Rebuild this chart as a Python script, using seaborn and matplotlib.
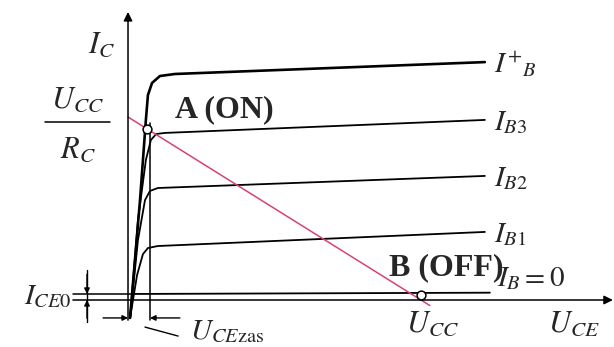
import matplotlib.pyplot as plt
import seaborn as sns
import pandas as pd

# output characteristics of a switching transistor (arbitrary units: U_CE in V, I_C in mA)
U_CC = 10.0        # supply voltage -> point B
I_MAX = 10.0       # U_CC / R_C -> start of the load line
I_CE0 = 0.33       # leakage current with I_B = 0
U_CEZAS = 0.75     # saturation voltage

curve_names = ['IBplus', 'IB3', 'IB2', 'IB1', 'IB0']
curve_labels = [r'$I^{+}{}_{B}$', r'$I_{B3}$', r'$I_{B2}$', r'$I_{B1}$', None]
u_ibplus = [0.07, 0.41, 0.61, 0.68, 0.82, 1.09, 1.60, 12.18]
i_ibplus = [-0.98, 5.46, 9.84, 11.20, 11.86, 12.24, 12.35, 13.00]
u_ib3 = [0.07, 0.34, 0.61, 0.78, 0.96, 1.26, 12.18]
i_ib3 = [-0.98, 4.37, 7.65, 8.74, 9.07, 9.13, 9.84]
u_ib2 = [0.07, 0.34, 0.58, 0.75, 1.02, 12.18]
i_ib2 = [-0.98, 3.28, 5.46, 5.96, 6.12, 6.78]
u_ib1 = [0.07, 0.31, 0.51, 0.68, 1.02, 12.18]
i_ib1 = [-0.98, 1.37, 2.51, 2.84, 2.95, 3.72]
u_ib0 = [0.07, 0.17, 12.35]
i_ib0 = [-0.98, I_CE0, 0.40]

# load line and the two operating points
u_load = [0.0, 10.3]
i_load = [I_MAX, I_MAX * (1 - 10.3 / U_CC)]
u_points = [0.65, U_CC]
i_points = [9.35, 0.30]

curves_u = [u_ibplus, u_ib3, u_ib2, u_ib1, u_ib0]
curves_i = [i_ibplus, i_ib3, i_ib2, i_ib1, i_ib0]

sns.set_style('white')
plt.rcParams['font.family'] = ['Liberation Serif', 'DejaVu Serif']
plt.rcParams['mathtext.fontset'] = 'stix'

fig = plt.figure(figsize=(6.14, 3.47), dpi=100)
ax = fig.add_axes([0, 0, 1, 1])
ax.set_xlim(-4.369, 16.587)
ax.set_ylim(-2.568, 16.393)
ax.axis('off')

# characteristic curves
for name, u, i, lab in zip(curve_names, curves_u, curves_i, curve_labels):
    df = pd.DataFrame({'U_CE': u, 'I_C': i})
    lw = 1.9 if name == 'IBplus' else 1.3
    sns.lineplot(data=df, x='U_CE', y='I_C', sort=False, estimator=None,
                 color='black', linewidth=lw, ax=ax)
    if lab:
        ax.text(u[-1] + 0.3, i[-1] - 0.15, lab, fontsize=21, ha='left', va='center')

# load line
sns.lineplot(x=u_load, y=i_load, sort=False, estimator=None,
             color='#d8407a', linewidth=1.1, ax=ax)
sns.scatterplot(x=u_points, y=i_points, s=40, color='white',
                edgecolor='black', linewidth=1.1, zorder=5, ax=ax)

arrow = dict(arrowstyle='-|>', color='black', lw=1.1, shrinkA=0, shrinkB=0,
             mutation_scale=13)
small = dict(arrowstyle='-|>', color='black', lw=1.0, shrinkA=0, shrinkB=0,
             mutation_scale=8)

# axes with arrows
ax.annotate('', xy=(0, 15.74), xytext=(0, -1.1), arrowprops=arrow)
ax.annotate('', xy=(16.55, 0), xytext=(-1.88, 0), arrowprops=arrow)
ax.plot([-1.88, 0.17], [I_CE0, I_CE0], color='black', lw=1.1)

# U_CEzas dimension
ax.plot([U_CEZAS, U_CEZAS], [9.67, -1.09], color='black', lw=1.1)
ax.annotate('', xy=(0, -0.98), xytext=(-0.85, -0.98), arrowprops=small)
ax.annotate('', xy=(U_CEZAS, -0.98), xytext=(1.77, -0.98), arrowprops=small)
ax.plot([0.58, 1.71], [-1.48, -1.97], color='black', lw=1.0)

# I_CE0 dimension
ax.plot([-1.40, -1.40], [1.64, -1.2], color='black', lw=1.0)
ax.annotate('', xy=(-1.40, I_CE0), xytext=(-1.40, 1.4), arrowprops=small)
ax.annotate('', xy=(-1.40, 0), xytext=(-1.40, -1.0), arrowprops=small)

# texts
ax.text(-0.44, 13.9, r'$I_C$', fontsize=22, ha='right', va='center')
ax.text(-1.71, 10.9, r'$U_{CC}$', fontsize=22, ha='center', va='center')
ax.plot([-2.83, -0.61], [9.73, 9.73], color='black', lw=1.1)
ax.text(-1.71, 8.2, r'$R_C$', fontsize=22, ha='center', va='center')
ax.text(1.60, 10.4, 'A (ON)', fontsize=23, fontweight='bold', ha='left', va='center')
ax.text(8.91, 1.75, 'B (OFF)', fontsize=23, fontweight='bold', ha='left', va='center')
ax.text(12.6, 1.15, r'$I_B = 0$', fontsize=21, ha='left', va='center')
ax.text(-1.93, 0.16, r'$I_{CE\mathrm{0}}$', fontsize=21, ha='right', va='center')
ax.text(2.12, -1.75, r'$U_{CE\mathrm{zas}}$', fontsize=21, ha='left', va='center')
ax.text(U_CC + 0.4, -1.35, r'$U_{CC}$', fontsize=22, ha='center', va='center')
ax.text(14.33, -1.35, r'$U_{CE}$', fontsize=22, ha='left', va='center')

fig.savefig('out.png', dpi=100)
